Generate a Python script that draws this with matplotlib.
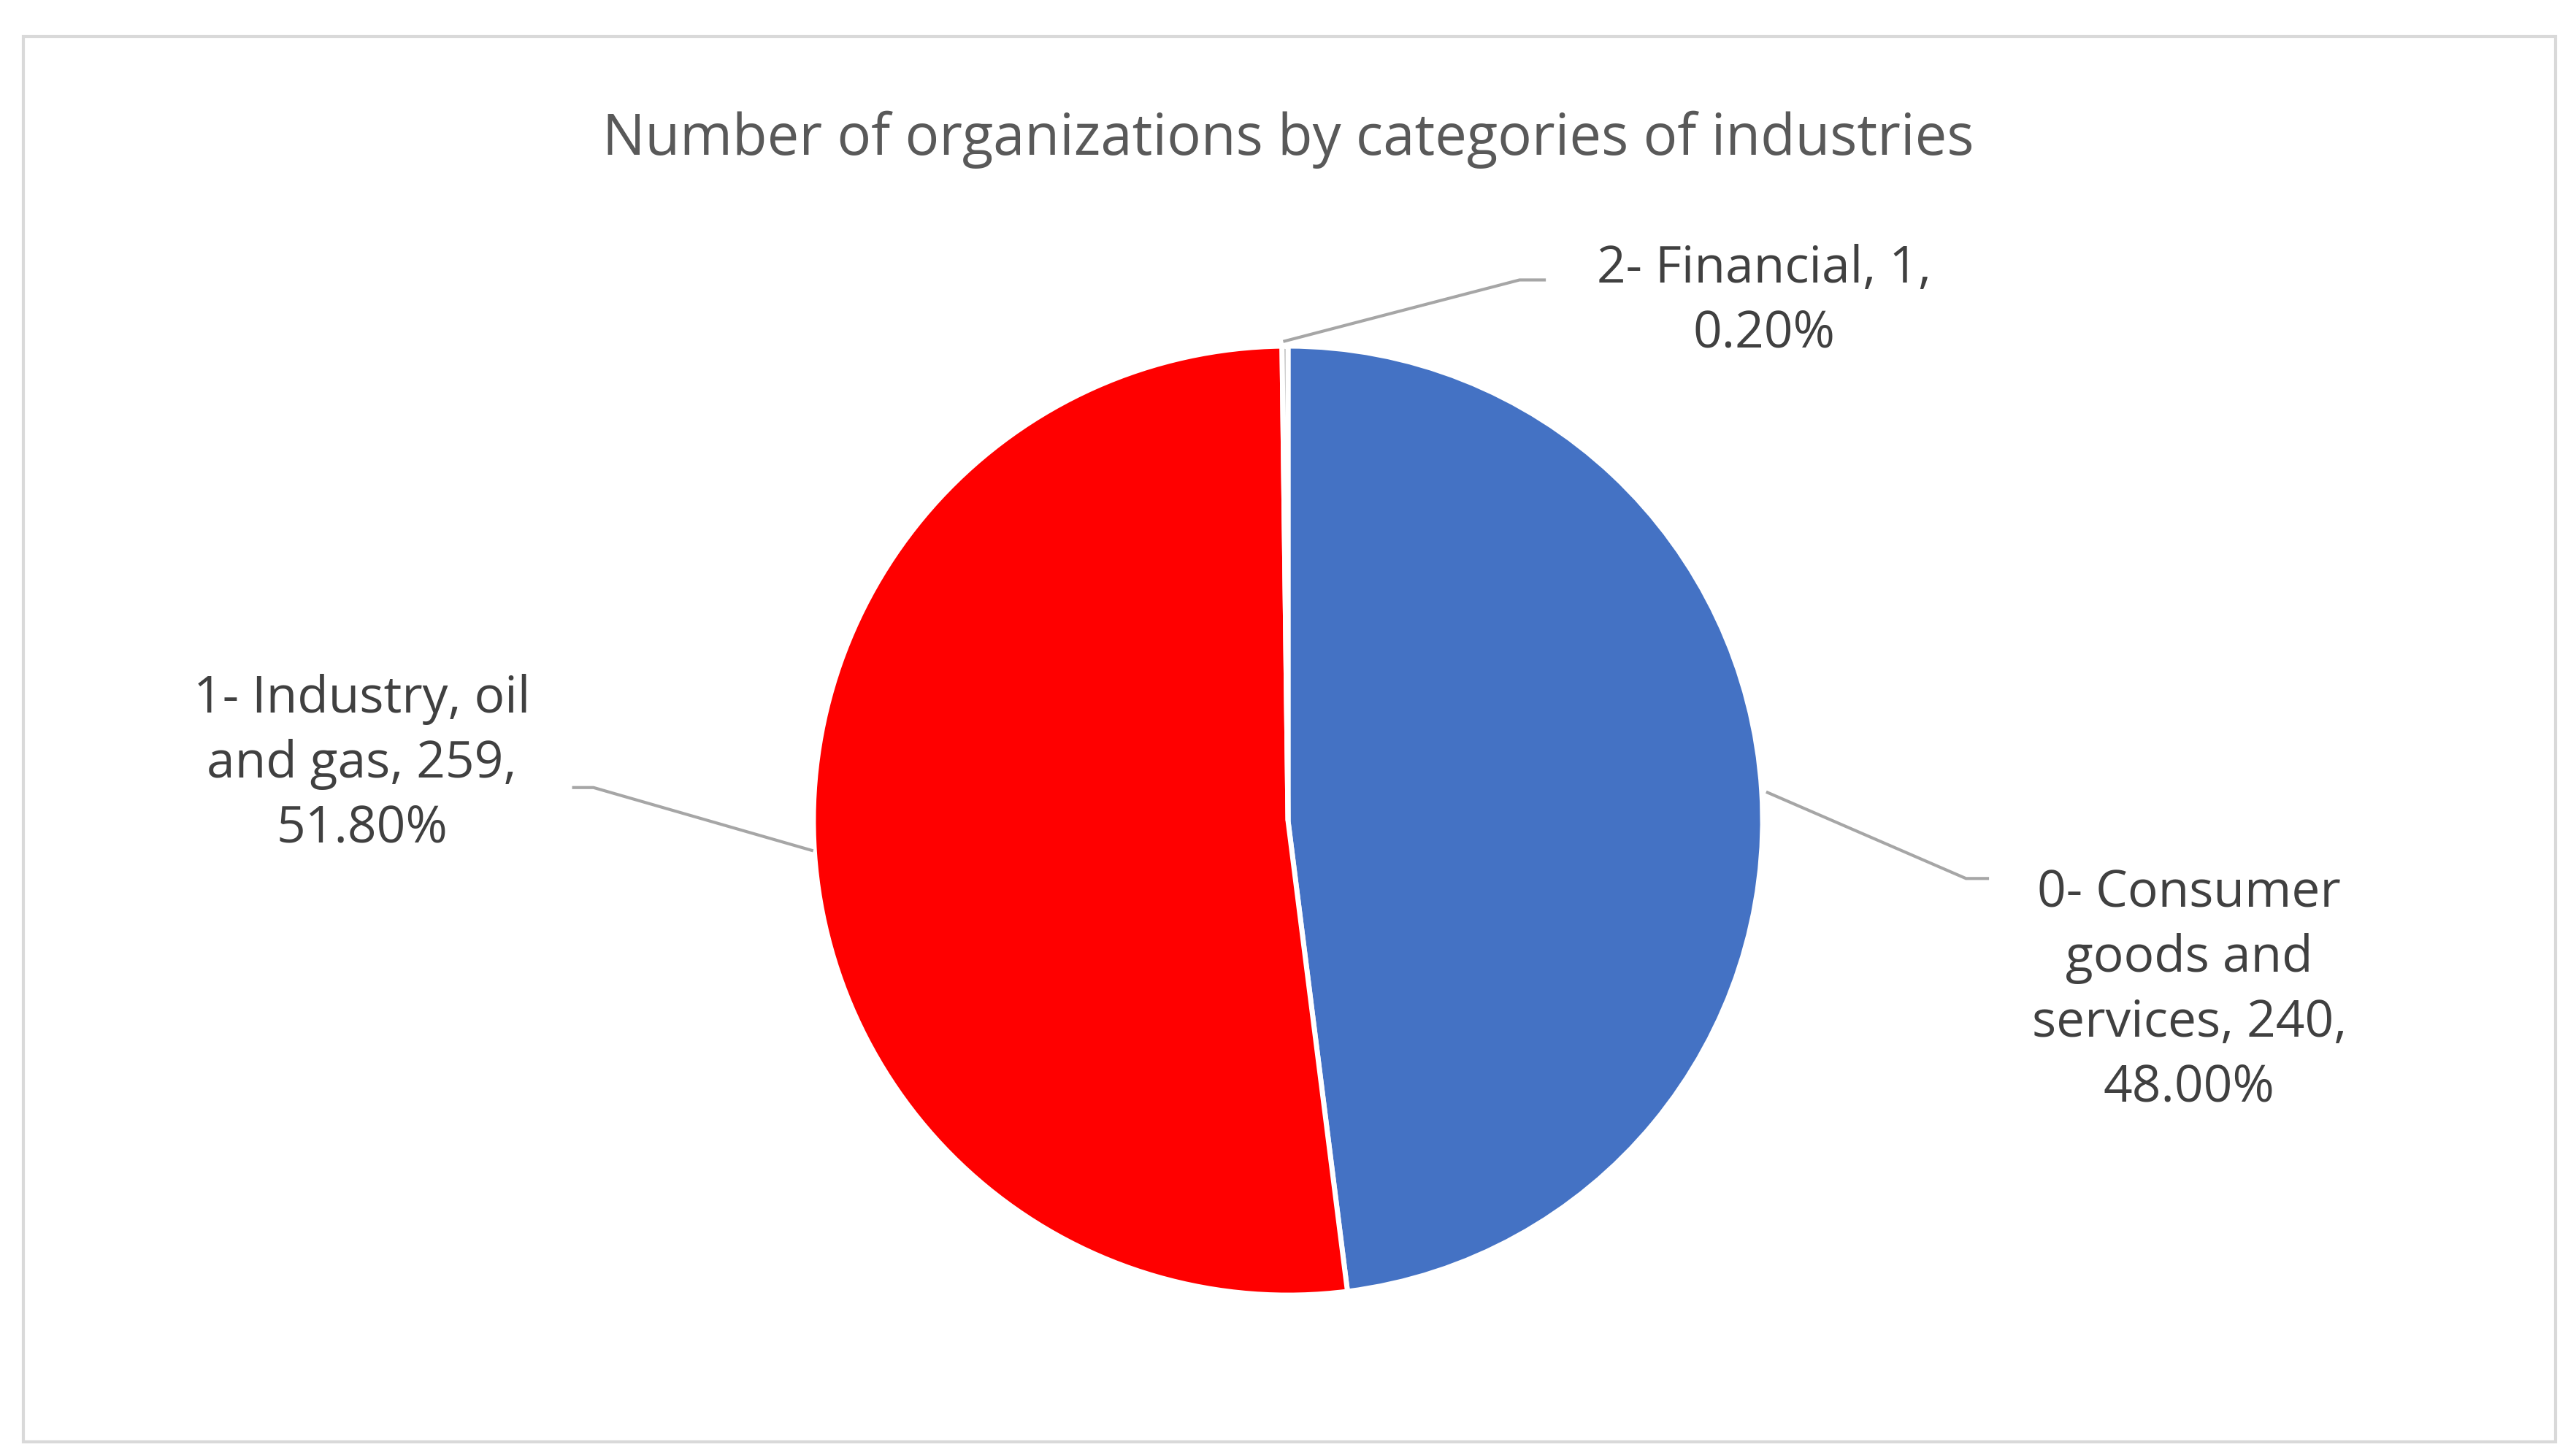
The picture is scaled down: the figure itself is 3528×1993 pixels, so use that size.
import matplotlib
matplotlib.use("Agg")
import matplotlib.pyplot as plt
from matplotlib.patches import Rectangle

categories = ["0- Consumer goods and services", "1- Industry, oil and gas", "2- Financial"]
counts = [240, 259, 1]
percents = ["48.00%", "51.80%", "0.20%"]
colors = ["#4472C4", "#FF0000", "#A5A5A5"]

fig = plt.figure(figsize=(35.28, 19.93), dpi=100)
fig.patches.append(Rectangle((0.009, 0.009), 0.983, 0.966, transform=fig.transFigure,
                             fill=False, edgecolor="#D9D9D9", linewidth=3))
fig.text(0.5, 0.904, "Number of organizations by categories of industries",
         ha="center", va="center", fontsize=56, color="#595959", family="Open Sans")

w = 1300 / 3528
h = 1300 / 1993
ax = fig.add_axes([0.5 - w / 2, 0.436 - h / 2, w, h])
ax.pie(counts, colors=colors, startangle=90, counterclock=False,
       wedgeprops=dict(edgecolor="white", linewidth=5))
ax.set_xlim(-1, 1); ax.set_ylim(-1, 1); ax.set_aspect("equal"); ax.axis("off")

def px(x, y):
    return ((x - 780) / 287, (497 - y) / 287)

labels = [
    ("0- Consumer\ngoods and\nservices, %d,\n%s" % (counts[0], percents[0]), (1325, 600),
     [(1070, 480), (1190, 532), (1203, 532)]),
    ("1- Industry, oil\nand gas, %d,\n%s" % (counts[1], percents[1]), (220, 463),
     [(492, 515), (360, 477), (348, 477)]),
    ("2- Financial, %d,\n%s" % (counts[2], percents[2]), (1068, 183),
     [(778, 207), (920, 170), (935, 170)]),
]
for txt, pos, line in labels:
    x, y = px(*pos)
    ax.text(x, y, txt, ha="center", va="center", fontsize=50, color="#404040",
            family="Open Sans", linespacing=1.35, clip_on=False)
    pts = [px(*p) for p in line]
    ax.plot([p[0] for p in pts], [p[1] for p in pts], color="#A6A6A6", lw=3, clip_on=False)

fig.savefig("out.png", dpi=100)
